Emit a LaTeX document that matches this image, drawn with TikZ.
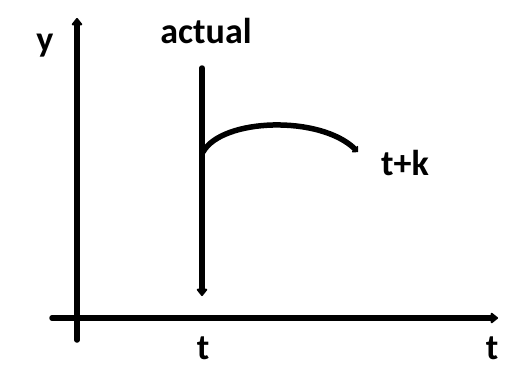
\documentclass[tikz,border=0pt]{standalone}
\usepackage{fontspec}
\setmainfont{Carlito}
\usetikzlibrary{arrows.meta}
\begin{document}
\begin{tikzpicture}[x=1pt,y=-1pt,
  lbl/.style={font=\fontsize{36}{38}\selectfont\bfseries, inner sep=0pt},
  ax/.style={line width=5.5pt, line cap=round, -{Triangle[length=8pt,width=12pt,round]}},
  crv/.style={line width=5.5pt, line cap=round, -{Triangle[length=5pt,width=10pt,round]}}]
\useasboundingbox[fill=white] (0,0) rectangle (532,376);
% axes
\coordinate (yb) at (77,340);
\coordinate (yt) at (77,18);
\coordinate (xl) at (52,318);
\coordinate (xr) at (498,318);
\draw[ax] (yb) -- (yt);
\draw[ax] (xl) -- (xr);
% actual line
\coordinate (at) at (202,68);
\coordinate (ab) at (202,296);
\draw[ax] (at) -- (ab);
% curve
\coordinate (cs) at (203,152);
\coordinate (ce) at (358,152);
\draw[crv] (cs) .. controls (222,118) and (320,115) .. (ce);
% labels
\node[lbl] (ylab) at (45,46) {y};
\node[lbl] (act) at (206,31) {actual};
\node[lbl] (tk) at (405,163) {t+k};
\node[lbl] (t1) at (203,348) {t};
\node[lbl] (t2) at (492,348) {t};
\end{tikzpicture}
\end{document}
